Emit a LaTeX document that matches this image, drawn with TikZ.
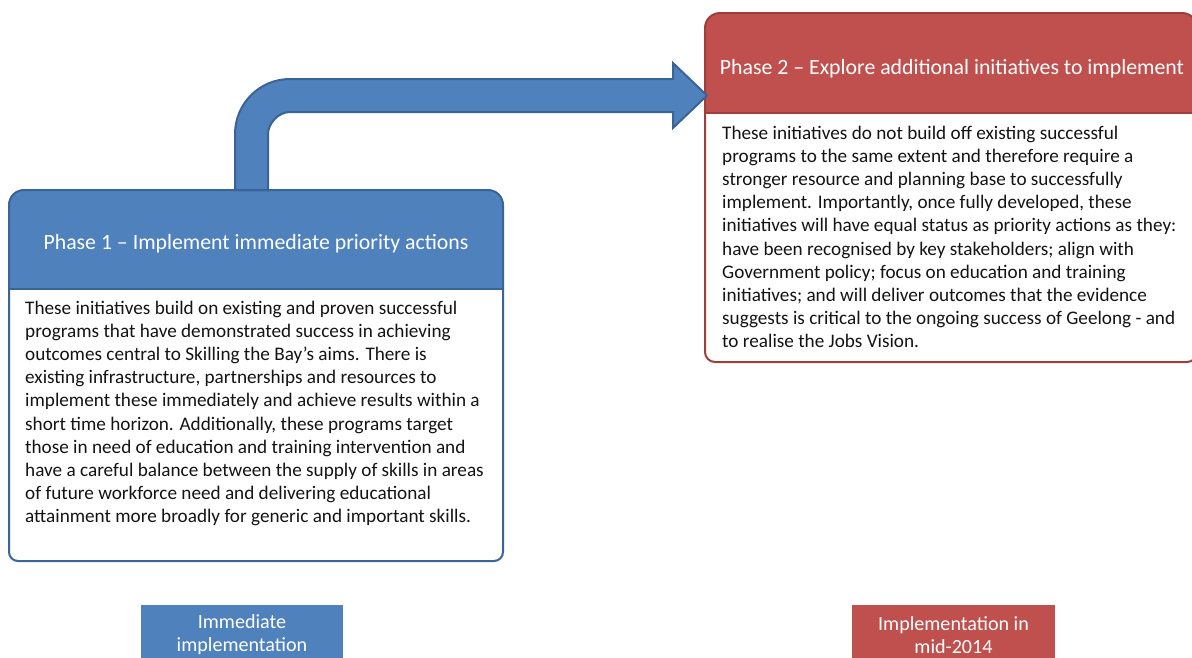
\documentclass[tikz,border=0pt]{standalone}
\usepackage{fontspec}
\setmainfont{Carlito}
\definecolor{bluefill}{HTML}{4F81BD}
\definecolor{blueline}{HTML}{3B6496}
\definecolor{redfill}{HTML}{C0504D}
\definecolor{redline}{HTML}{A03E3C}
\definecolor{bodytext}{HTML}{141414}
\begin{document}
\begin{tikzpicture}[x=1pt,y=-1pt,
  frame/.style={line width=2pt},
  headtext/.style={text=white,inner sep=0pt,font=\fontsize{21.8}{26}\selectfont},
  paratext/.style={text=bodytext,inner sep=0pt,align=left,anchor=north west,
    font=\fontsize{19.2}{23.1}\selectfont},
  tagtext/.style={text=white,inner sep=0pt,align=center,
    font=\fontsize{20.1}{23}\selectfont}]
\useasboundingbox (0,0) rectangle (1192,657);

% Phase 1 panel: body, then header on top
\draw[frame,draw=blueline,fill=white,rounded corners=9pt]
  (9,289) -- (9,561) -- (503,561) -- (503,289);
\fill[bluefill,rounded corners=15pt] (9,289) -- (9,190) -- (503,190) -- (503,289);
\draw[frame,draw=blueline,rounded corners=15pt] (9,289) -- (9,190) -- (503,190) -- (503,289);
\draw[frame,draw=blueline] (9,289) -- (503,289);

% Phase 2 panel
\draw[frame,draw=redline,fill=white,rounded corners=10pt]
  (705,113) -- (705,362) -- (1197,362) -- (1197,113);
\fill[redfill,rounded corners=15pt] (705,113) -- (705,13) -- (1197,13) -- (1197,113);
\draw[frame,draw=redline,rounded corners=15pt] (705,113) -- (705,13) -- (1197,13) -- (1197,113);
\draw[frame,draw=redline] (705,113) -- (1197,113);

% bent block arrow from Phase 1 to Phase 2
\draw[frame,draw=blueline,fill=bluefill,line join=miter]
  (235,190) -- (235,134)
  .. controls (235,103.6) and (259.6,79) .. (290,79)
  -- (673,79) -- (673,63) -- (707,95.5) -- (673,128) -- (673,112)
  -- (290,112)
  .. controls (277.85,112) and (268,124.15) .. (268,134)
  -- (268,190) -- cycle;

% titles
\node[headtext] (p1title) at (256,243.5) {Phase 1 – Implement immediate priority actions};
\node[headtext] (p2title) at (952,69) {Phase 2 – Explore additional initiatives to implement};

% descriptions
\node[paratext] (p1text) at (25,301) {These initiatives build on existing and proven successful\\
programs that have demonstrated success in achieving\\
outcomes central to Skilling the Bay’s aims. There is\\
existing infrastructure, partnerships and resources to\\
implement these immediately and achieve results within a\\
short time horizon. Additionally, these programs target\\
those in need of education and training intervention and\\
have a careful balance between the supply of skills in areas\\
of future workforce need and delivering educational\\
attainment more broadly for generic and important skills.};

\node[paratext] (p2text) at (722,126) {These initiatives do not build off existing successful\\
programs to the same extent and therefore require a\\
stronger resource and planning base to successfully\\
implement. Importantly, once fully developed, these\\
initiatives will have equal status as priority actions as they:\\
have been recognised by key stakeholders; align with\\
Government policy; focus on education and training\\
initiatives; and will deliver outcomes that the evidence\\
suggests is critical to the ongoing success of Geelong - and\\
to realise the Jobs Vision.};

% timing tags
\fill[bluefill] (141,605) rectangle (343,660);
\node[tagtext] (tag1) at (242,635) {Immediate\\implementation};
\fill[redfill] (852,605) rectangle (1055,660);
\node[tagtext] (tag2) at (953.5,635) {Implementation in\\mid-2014};
\end{tikzpicture}
\end{document}
